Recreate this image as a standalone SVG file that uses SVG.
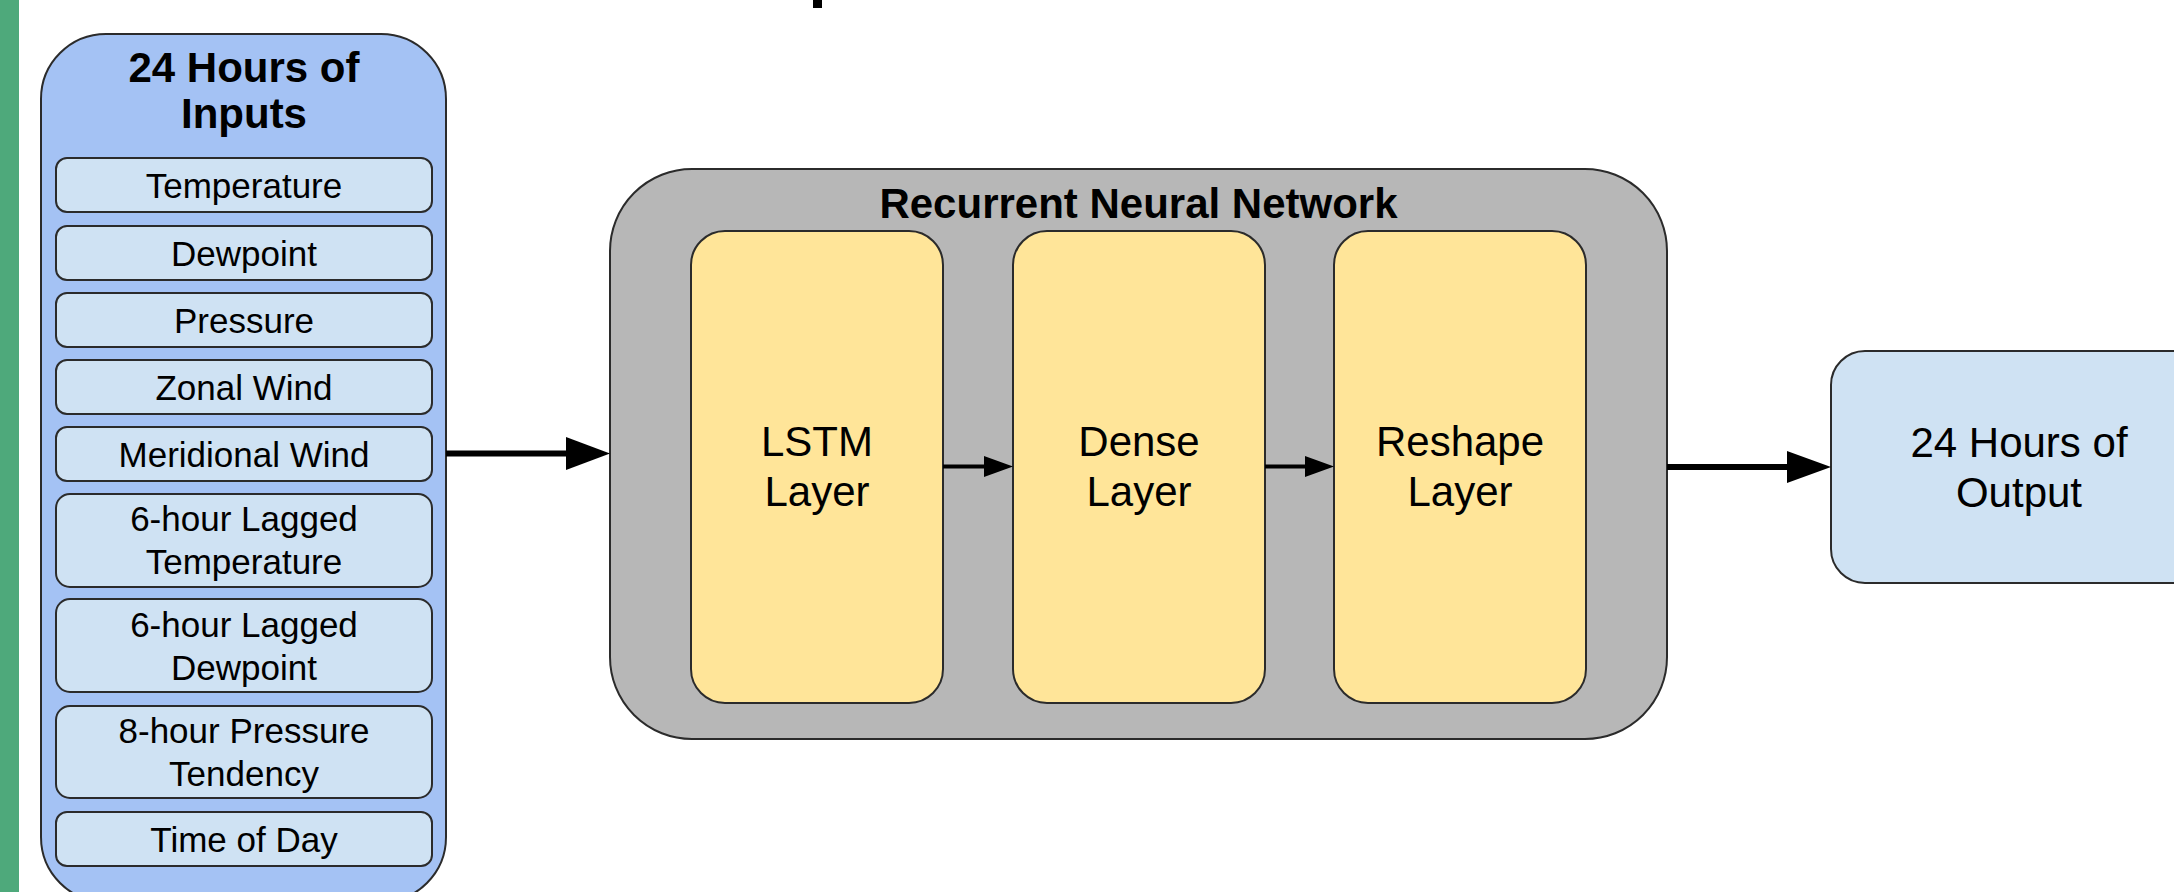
<svg xmlns="http://www.w3.org/2000/svg" width="2174" height="892" viewBox="0 0 2174 892">
<style>
text{font-family:"Liberation Sans",Arial,sans-serif;fill:#000;text-anchor:middle}
.t35{font-size:35px}
.t42{font-size:42px}
.b{font-weight:bold}
.box{stroke:#2b2b2b;stroke-width:2}
.outer{fill:#a4c2f4}
.item{fill:#cfe2f3}
.gray{fill:#b7b7b7}
.yel{fill:#ffe599}
.line{stroke:#000;fill:none}
.head{fill:#000}
</style>
<rect x="0" y="0" width="2174" height="892" fill="#ffffff"/>
<rect x="0" y="0" width="19" height="892" fill="#4ea97b"/>
<rect x="813" y="0" width="9" height="8" fill="#000"/>

<g id="inputs">
  <rect class="box outer" x="41" y="34" width="405" height="868" rx="65"/>
  <text class="t42 b" x="244" y="82">24 Hours of</text>
  <text class="t42 b" x="244" y="128">Inputs</text>
  <g id="in-temperature"><rect class="box item" x="56" y="158" width="376" height="54" rx="11"/><text class="t35" x="244" y="198">Temperature</text></g>
  <g id="in-dewpoint"><rect class="box item" x="56" y="226" width="376" height="54" rx="11"/><text class="t35" x="244" y="266">Dewpoint</text></g>
  <g id="in-pressure"><rect class="box item" x="56" y="293" width="376" height="54" rx="11"/><text class="t35" x="244" y="333">Pressure</text></g>
  <g id="in-zonal"><rect class="box item" x="56" y="360" width="376" height="54" rx="11"/><text class="t35" x="244" y="400">Zonal Wind</text></g>
  <g id="in-meridional"><rect class="box item" x="56" y="427" width="376" height="54" rx="11"/><text class="t35" x="244" y="467">Meridional Wind</text></g>
  <g id="in-lagtemp"><rect class="box item" x="56" y="494" width="376" height="93" rx="14"/><text class="t35" x="244" y="531">6-hour Lagged</text><text class="t35" x="244" y="574">Temperature</text></g>
  <g id="in-lagdew"><rect class="box item" x="56" y="599" width="376" height="93" rx="14"/><text class="t35" x="244" y="637">6-hour Lagged</text><text class="t35" x="244" y="680">Dewpoint</text></g>
  <g id="in-tendency"><rect class="box item" x="56" y="706" width="376" height="92" rx="14"/><text class="t35" x="244" y="743">8-hour Pressure</text><text class="t35" x="244" y="786">Tendency</text></g>
  <g id="in-time"><rect class="box item" x="56" y="812" width="376" height="54" rx="11"/><text class="t35" x="244" y="852">Time of Day</text></g>
</g>

<g id="rnn">
  <rect class="box gray" x="610" y="169" width="1057" height="570" rx="82"/>
  <text class="t42 b" x="1138.5" y="218">Recurrent Neural Network</text>
</g>
<g id="lstm">
  <rect class="box yel" x="691" y="231" width="252" height="472" rx="34"/>
  <text class="t42" x="817" y="456">LSTM</text>
  <text class="t42" x="817" y="506">Layer</text>
</g>
<g id="dense">
  <rect class="box yel" x="1013" y="231" width="252" height="472" rx="34"/>
  <text class="t42" x="1139" y="456">Dense</text>
  <text class="t42" x="1139" y="506">Layer</text>
</g>
<g id="reshape">
  <rect class="box yel" x="1334" y="231" width="252" height="472" rx="34"/>
  <text class="t42" x="1460" y="456">Reshape</text>
  <text class="t42" x="1460" y="506">Layer</text>
</g>
<g id="output">
  <rect class="box item" x="1831" y="351" width="376" height="232" rx="34"/>
  <text class="t42" x="2019" y="457">24 Hours of</text>
  <text class="t42" x="2019" y="507">Output</text>
</g>

<g id="connectors">
  <line class="line" x1="446" y1="453.5" x2="570" y2="453.5" stroke-width="6"/>
  <polygon class="head" points="566,437 610,453.5 566,470"/>
  <line class="line" x1="943" y1="466.5" x2="988" y2="466.5" stroke-width="4"/>
  <polygon class="head" points="984,456 1013,466.5 984,477"/>
  <line class="line" x1="1265" y1="466.5" x2="1309" y2="466.5" stroke-width="4"/>
  <polygon class="head" points="1305,456 1334,466.5 1305,477"/>
  <line class="line" x1="1667" y1="467" x2="1791" y2="467" stroke-width="6"/>
  <polygon class="head" points="1787,451 1831,467 1787,483"/>
</g>
</svg>
